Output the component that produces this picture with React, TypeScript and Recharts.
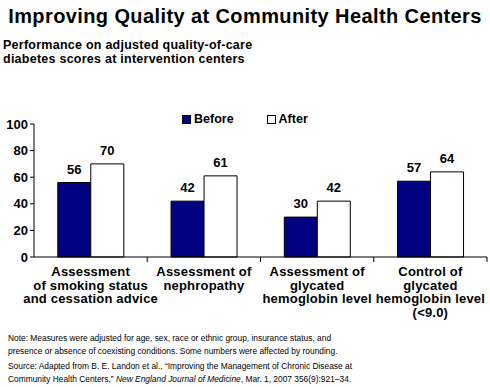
import React from 'react';
import {
  BarChart,
  Bar,
  XAxis,
  YAxis,
  LabelList,
} from 'recharts';

const categories = [
  ['Assessment', 'of smoking status', 'and cessation advice'],
  ['Assessment of', 'nephropathy'],
  ['Assessment of', 'glycated', 'hemoglobin level'],
  ['Control of', 'glycated', 'hemoglobin level', '(<9.0)'],
];
const beforeValues = [56, 42, 30, 57];
const afterValues = [70, 61, 42, 64];
const yTicks = [0, 20, 40, 60, 80, 100];

const FONT = 'Arial, "Liberation Sans", sans-serif';
const NAVY = '#000080';

const data = categories.map((lines, i) => ({
  key: String(i),
  before: beforeValues[i],
  after: afterValues[i],
}));

const CategoryTick = (props: any) => {
  const { x, y, payload, index } = props;
  const lines = categories[Number(payload.value)] || [];
  const half = payload.offset || 0;
  return (
    <g>
      {index > 0 && (
        <line x1={x - half} x2={x - half} y1={y - 8} y2={y - 3} stroke="#000" />
      )}
      {index === categories.length - 1 && (
        <line x1={x + half} x2={x + half} y1={y - 8} y2={y - 3} stroke="#000" />
      )}
      <text
        x={x}
        y={y + 11}
        textAnchor="middle"
        fontFamily={FONT}
        fontWeight="bold"
        fontSize={13}
        letterSpacing={0.2}
        fill="#000"
      >
        {lines.map((l, i) => (
          <tspan key={i} x={x} dy={i === 0 ? 0 : 13.6}>
            {l}
          </tspan>
        ))}
      </text>
    </g>
  );
};

const LegendBox = () => (
  <div
    style={{
      position: 'absolute',
      top: 112,
      left: 182,
      display: 'flex',
      fontFamily: FONT,
      fontWeight: 'bold',
      fontSize: 12.5,
      color: '#000',
      alignItems: 'center',
    }}
  >
    <span style={{ display: 'inline-block', width: 7, height: 7, background: NAVY, border: '1px solid #000', marginRight: 3 }} />
    <span style={{ marginRight: 33 }}>Before</span>
    <span style={{ display: 'inline-block', width: 7, height: 7, background: '#fff', border: '1px solid #000', marginRight: 3 }} />
    <span>After</span>
  </div>
);

const App: React.FC = () => {
  return (
    <div
      style={{
        position: 'absolute',
        left: 0,
        top: 0,
        width: 490,
        height: 387,
        background: '#fff',
        fontFamily: FONT,
        overflow: 'hidden',
      }}
    >
      <div
        style={{
          position: 'absolute',
          top: 5,
          left: 0,
          width: 490,
          textAlign: 'center',
          fontSize: 20,
          fontWeight: 'bold',
          letterSpacing: 0.4,
        }}
      >
        Improving Quality at Community Health Centers
      </div>
      <div
        style={{
          position: 'absolute',
          top: 38,
          left: 3,
          fontSize: 12.5,
          fontWeight: 'bold',
          lineHeight: '14px',
          letterSpacing: 0.25,
        }}
      >
        Performance on adjusted quality-of-care
        <br />
        diabetes scores at intervention centers
      </div>
      <div style={{ position: 'absolute', top: 0, left: 0 }}>
        <BarChart
          width={490}
          height={330}
          data={data}
          margin={{ top: 124, right: 3, bottom: 3, left: 0 }}
          barCategoryGap="21%"
          barGap={0}
        >
          <YAxis
            width={34}
            domain={[0, 100]}
            ticks={yTicks}
            interval={0}
            axisLine={{ stroke: '#000' }}
            tickLine={{ stroke: '#000' }}
            tickSize={4}
            tick={{ fill: '#000', fontFamily: FONT, fontWeight: 'bold', fontSize: 13 }}
          />
          <XAxis
            dataKey="key"
            height={70}
            interval={0}
            axisLine={{ stroke: '#000' }}
            tickLine={false}
            tick={<CategoryTick />}
          />
          <Bar dataKey="before" name="Before" fill={NAVY} stroke="#000" strokeWidth={1} isAnimationActive={false}>
            <LabelList dataKey="before" position="top" offset={9} fill="#000" fontFamily={FONT} fontWeight="bold" fontSize={13} />
          </Bar>
          <Bar dataKey="after" name="After" fill="#fff" stroke="#000" strokeWidth={1} isAnimationActive={false}>
            <LabelList dataKey="after" position="top" offset={9} fill="#000" fontFamily={FONT} fontWeight="bold" fontSize={13} />
          </Bar>
        </BarChart>
      </div>
      <LegendBox />
      <div
        style={{
          position: 'absolute',
          top: 332,
          left: 8,
          fontSize: 8.4,
          lineHeight: '12.5px',
          color: '#000',
        }}
      >
        Note: Measures were adjusted for age, sex, race or ethnic group, insurance status, and
        <br />
        presence or absence of coexisting conditions. Some numbers were affected by rounding.
        <div style={{ marginTop: 3 }}>
          Source: Adapted from B. E. Landon et al., “Improving the Management of Chronic Disease at
          <br />
          Community Health Centers,” <i>New England Journal of Medicine</i>, Mar. 1, 2007 356(9):921–34.
        </div>
      </div>
    </div>
  );
};

export default App;
